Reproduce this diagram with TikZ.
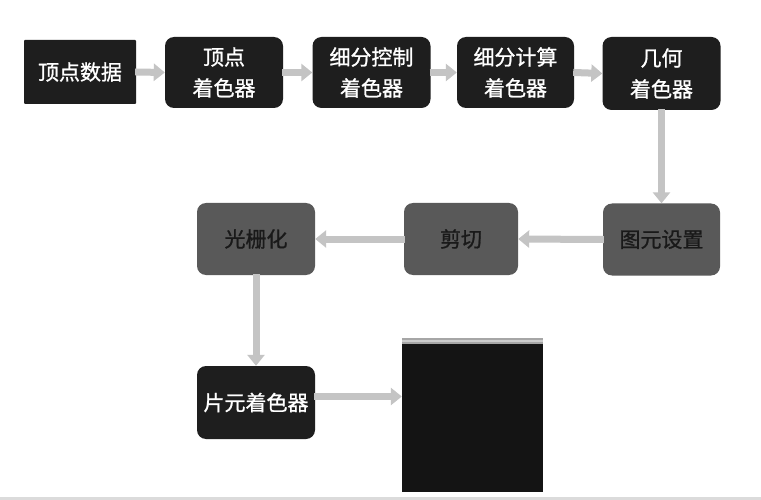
\documentclass[tikz,border=0pt]{standalone}
\usepackage{fontspec}
\setmainfont{Noto Sans CJK SC}
\newfontfamily\medfont{Noto Sans CJK SC}[FakeBold=1]
\usetikzlibrary{arrows.meta}
\definecolor{darkbox}{HTML}{1E1E1E}
\definecolor{graybox}{HTML}{595959}
\definecolor{arrowgray}{HTML}{C4C4C4}
\tikzset{
  box/.style={rounded corners=9pt, minimum width=#1, align=center, text=white, fill=darkbox,
    font=\fontsize{21}{31}\selectfont\medfont, inner sep=0pt},
  darkbox/.style={box=118pt, minimum height=71pt},
  graybx/.style={box=117pt, minimum height=72pt, fill=graybox, text=black!90},
  flow/.style={draw=arrowgray, line width=7pt, -{Triangle[width=17pt,length=11pt]}, shorten <=-1pt}
}
\begin{document}
\begin{tikzpicture}[x=1pt,y=-1pt]
\useasboundingbox (0,0) rectangle (761,500);
\fill[white] (0,0) rectangle (761,500);
\fill[black!14] (0,497) rectangle (761,500);

\node[darkbox, rounded corners=1pt, minimum width=112pt, minimum height=64pt] (A) at (80,72) {顶点数据};
\node[darkbox] (B) at (224,72.5) {顶点\\着色器};
\node[darkbox] (C) at (371.5,72.5) {细分控制\\着色器};
\node[darkbox, minimum width=117pt] (D) at (515.5,72.5) {细分计算\\着色器};
\node[darkbox, minimum height=73pt] (E) at (661.5,73.5) {几何\\着色器};
\node[graybx] (F) at (661.5,239.5) {图元设置};
\node[graybx, minimum width=114pt] (G) at (461,239) {剪切};
\node[graybx, minimum width=118pt] (H) at (256,239) {光栅化};
\node[darkbox, minimum height=73pt] (I) at (256,402.5) {片元着色器};

\node[fill=black!92, minimum width=141pt, minimum height=148pt, inner sep=0pt] (J) at (472.5,418) {};
\fill[black!35] (J.north west) rectangle ([yshift=6pt]J.north east);
\fill[black!20] ([yshift=1.5pt]J.north west) rectangle ([yshift=4pt]J.north east);

\draw[flow] (A.east) -- (B.west);
\draw[flow] (B.east) -- (C.west);
\draw[flow] (C.east) -- (D.west);
\draw[flow] (D.east) -- (E.west);
\draw[flow] (E.south) -- (F.north);
\draw[flow] (F.west) -- (G.east);
\draw[flow] (G.west) -- (H.east);
\draw[flow] (H.south) -- (I.north);
\draw[flow] ([yshift=6pt]I.east) -- ([yshift=6pt]I.east -| J.west);
\end{tikzpicture}
\end{document}
